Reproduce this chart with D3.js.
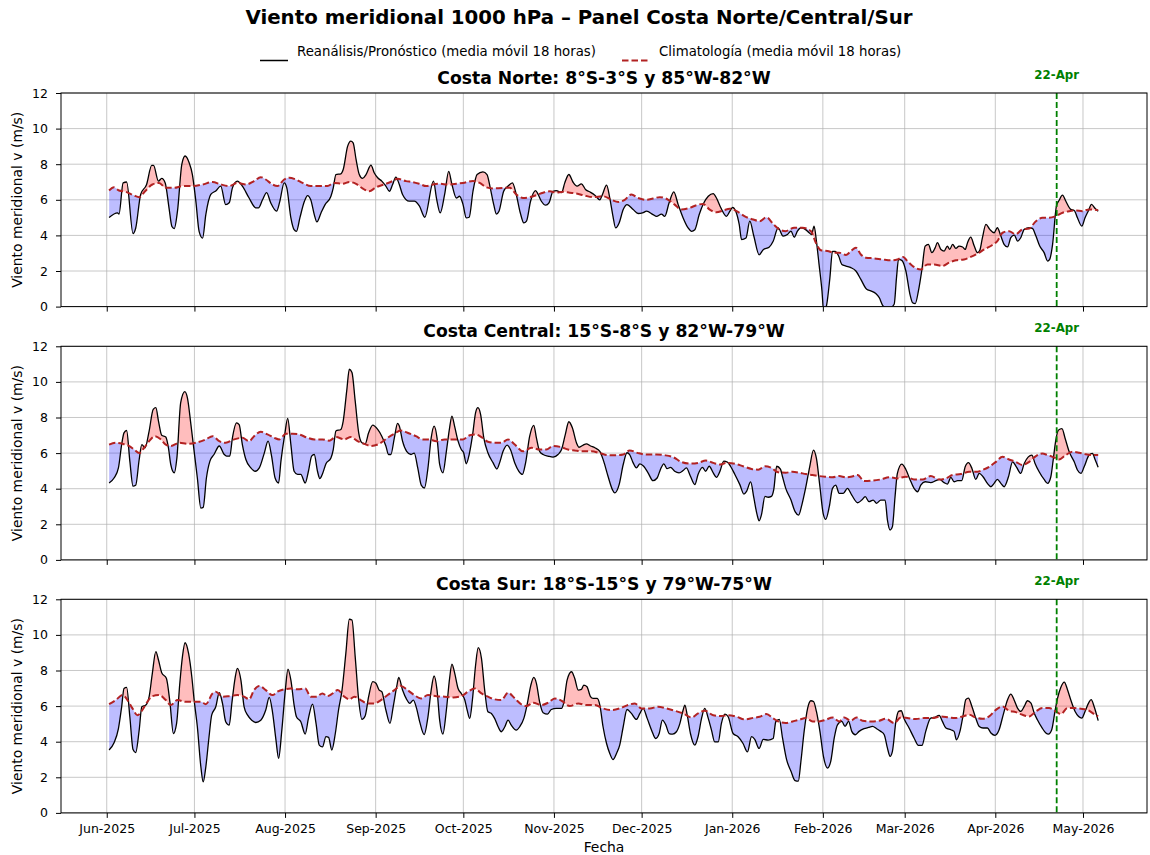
<!DOCTYPE html>
<html><head><meta charset="utf-8">
<script src="https://cdn.jsdelivr.net/npm/d3@7"></script>
<style>
body{margin:0;background:#fff}
svg{display:block}
text{font-family:"DejaVu Sans",sans-serif}
</style>
</head><body>
<svg id="chart" width="1150" height="855"></svg>
<script>
// ---------- DATA ----------
// Time axis: day offsets from 2025-06-01 (UTC)
const baseDate = "2025-06-01";
const domainDays = [-15.65, 355.9];
const monthTicks = ["2025-06-01","2025-07-01","2025-08-01","2025-09-01","2025-10-01","2025-11-01","2025-12-01","2026-01-01","2026-02-01","2026-03-01","2026-04-01","2026-05-01"];
const forecastDate = "2026-04-22";
const forecastLabel = "22-Apr";
const yTicks = [0,2,4,6,8,10,12];
const mainTitle = "Viento meridional 1000 hPa \u2013 Panel Costa Norte/Central/Sur";
const panelTitles = ["Costa Norte: 8°S-3°S y 85°W-82°W","Costa Central: 15°S-8°S y 82°W-79°W","Costa Sur: 18°S-15°S y 79°W-75°W"];
const legendLabels = ["Reanálisis/Pronóstico (media móvil 18 horas)","Climatología (media móvil 18 horas)"];

// [day, value m/s]
const northObs = [[0.8,5.0],[3.7,5.26],[4.2,5.2],[5.6,6.95],[6.8,7.0],[9.0,4.1],[9.9,4.4],[11.6,6.3],[13.6,6.85],[15.4,7.93],[16.0,7.93],[17.7,7.05],[18.8,7.2],[20.0,6.95],[21.3,5.55],[22.3,4.5],[23.1,4.38],[24.2,5.36],[25.7,8.0],[26.8,8.46],[28.2,8.08],[29.3,7.42],[30.5,5.9],[31.6,4.23],[32.8,3.85],[33.9,5.17],[35.6,6.3],[37.3,6.5],[39.0,6.77],[40.7,5.73],[41.9,5.83],[43.0,6.67],[44.7,7.05],[46.4,6.77],[48.7,6.1],[51.0,5.55],[51.9,5.55],[53.3,6.0],[54.7,6.4],[56.1,5.83],[58.1,5.36],[59.2,5.9],[60.7,6.95],[61.6,6.67],[63.0,4.98],[64.1,4.32],[64.9,4.23],[66.1,5.0],[67.6,5.9],[68.7,6.24],[69.8,6.0],[71.0,5.17],[71.9,4.76],[73.3,5.26],[74.7,5.73],[76.7,6.2],[77.5,6.67],[78.4,7.42],[80.1,7.46],[80.9,7.7],[82.4,9.0],[83.5,9.3],[84.3,9.2],[85.3,8.27],[86.4,7.42],[87.5,7.2],[88.7,7.42],[90.4,7.95],[91.5,7.52],[92.7,7.24],[94.1,7.05],[95.5,6.77],[96.7,6.48],[97.8,6.86],[98.9,7.27],[100.1,6.86],[101.2,6.3],[103.5,5.92],[105.2,5.92],[107.0,5.64],[108.8,5.02],[111.8,7.05],[112.8,6.1],[114.1,5.26],[115.6,6.3],[117.0,7.6],[118.1,6.86],[119.6,6.1],[120.7,6.2],[121.9,5.73],[123.0,4.98],[124.0,5.02],[125.3,6.48],[126.7,7.42],[128.7,7.57],[130.1,7.42],[131.2,6.67],[132.4,5.73],[133.3,5.2],[134.2,5.36],[135.8,6.48],[137.3,6.77],[138.8,6.95],[140.1,6.3],[141.5,5.26],[142.7,4.7],[143.6,4.8],[145.0,5.92],[146.7,6.52],[147.6,6.3],[148.7,5.92],[150.2,5.7],[151.3,5.83],[152.7,6.48],[153.8,6.52],[155.6,6.4],[156.7,6.95],[158.1,7.42],[159.5,7.0],[160.9,6.77],[162.4,6.9],[163.8,6.58],[165.2,6.45],[167.0,6.26],[168.7,6.0],[169.6,6.3],[171.0,6.82],[172.1,6.1],[173.2,5.07],[174.1,4.42],[175.3,4.7],[176.7,5.45],[178.0,5.73],[180.1,5.45],[181.8,5.23],[183.3,5.26],[184.7,5.36],[186.9,5.17],[188.1,5.07],[189.8,5.2],[190.9,5.07],[192.4,5.83],[194.0,6.45],[195.5,5.73],[197.2,4.98],[198.9,4.42],[200.1,4.23],[201.2,4.32],[202.7,5.17],[204.3,5.83],[205.8,6.2],[207.5,6.35],[208.6,6.1],[210.1,5.55],[212.0,5.07],[213.2,5.36],[214.1,5.58],[215.2,5.36],[216.4,4.6],[217.2,3.76],[218.7,3.85],[220.0,4.8],[221.4,3.95],[223.2,2.91],[224.6,3.2],[226.6,3.33],[228.0,3.67],[229.7,4.42],[231.4,3.96],[232.9,4.05],[234.1,4.24],[235.2,3.9],[236.3,4.24],[237.5,4.43],[239.0,4.34],[240.3,4.15],[241.1,4.05],[242.0,4.52],[242.8,3.68],[243.7,2.37],[244.7,0.88],[245.3,-0.3],[246.3,0.1],[247.4,1.6],[248.3,3.1],[249.2,3.1],[250.4,2.84],[251.5,2.37],[252.9,2.28],[254.6,2.19],[256.3,2.0],[258.0,1.53],[260.0,0.97],[261.4,0.88],[263.1,0.73],[264.3,0.5],[265.6,0.04],[267.7,-0.1],[269.4,0.13],[270.2,1.63],[270.9,2.65],[272.0,2.6],[273.4,2.0],[274.8,0.69],[275.7,0.22],[276.6,0.17],[277.7,0.88],[278.9,2.09],[280.0,3.4],[281.1,3.5],[282.3,3.03],[283.4,3.3],[284.2,3.59],[285.4,3.21],[286.5,3.12],[287.6,3.4],[288.4,3.21],[289.4,3.5],[290.5,3.27],[291.6,3.4],[292.8,3.35],[293.7,3.21],[294.5,3.59],[295.6,3.9],[296.8,3.4],[297.9,3.03],[298.7,3.16],[299.6,3.87],[300.8,4.62],[302.1,4.34],[303.6,4.15],[304.7,4.43],[305.9,3.96],[307.0,3.5],[308.2,3.35],[309.3,3.87],[310.5,4.02],[311.6,3.68],[312.7,3.87],[313.9,4.34],[315.6,4.43],[316.7,4.39],[317.9,3.96],[319.2,3.4],[320.7,3.03],[321.9,2.56],[322.6,2.65],[323.6,3.5],[324.9,5.64],[325.8,5.96],[327.0,6.26],[328.1,5.93],[329.8,5.46],[331.0,5.4],[332.1,4.99],[333.6,4.52],[334.7,4.99],[335.9,5.4],[336.9,5.74],[338.2,5.51],[339.2,5.36]];
const northClim = [[0.8,6.52],[2.5,6.7],[4.2,6.52],[6.5,6.45],[9.4,6.24],[11.1,6.15],[13.1,6.48],[15.6,6.86],[17.9,6.95],[20.2,6.67],[23.1,6.67],[25.9,6.77],[29.3,6.77],[32.8,6.86],[36.2,7.0],[39.0,6.86],[41.9,6.77],[44.7,6.95],[47.6,6.86],[50.4,7.05],[52.7,7.27],[54.4,7.14],[56.7,6.86],[58.4,6.77],[60.7,7.14],[62.4,7.24],[64.7,7.14],[67.0,6.95],[69.8,6.77],[72.7,6.77],[75.5,6.77],[77.8,6.95],[80.7,6.9],[83.0,7.0],[85.3,6.9],[87.5,6.64],[89.8,6.48],[92.1,6.7],[94.9,6.86],[97.8,7.05],[99.5,7.18],[102.4,7.05],[104.6,7.0],[106.9,6.9],[109.3,6.77],[111.6,6.86],[113.9,6.9],[116.8,6.86],[119.6,6.9],[121.9,6.95],[125.3,7.05],[127.6,6.95],[129.9,6.7],[132.2,6.64],[135.6,6.67],[137.9,6.67],[140.1,6.3],[142.4,6.1],[145.9,6.2],[149.3,6.4],[151.6,6.48],[153.8,6.4],[156.1,6.45],[158.4,6.4],[160.7,6.35],[163.5,6.24],[166.4,6.15],[169.8,6.2],[172.7,6.0],[175.0,5.88],[177.2,6.0],[179.5,6.3],[181.8,6.1],[184.7,6.0],[186.9,6.07],[189.2,6.15],[192.1,6.0],[194.3,5.73],[196.6,5.45],[199.5,5.55],[201.8,5.7],[204.0,5.77],[206.3,5.45],[208.6,5.3],[210.9,5.4],[213.2,5.5],[215.5,5.36],[218.3,5.07],[221.2,4.89],[223.4,4.8],[225.7,5.02],[228.0,4.64],[230.2,4.33],[232.3,4.24],[235.2,4.43],[238.0,4.43],[240.9,4.24],[242.6,3.59],[244.3,3.16],[246.6,3.12],[248.9,3.03],[250.6,3.03],[252.9,2.9],[254.6,3.12],[256.3,3.31],[258.0,2.93],[259.7,2.75],[262.6,2.71],[265.4,2.65],[268.3,2.6],[270.5,2.65],[272.5,2.79],[273.9,2.56],[275.7,2.28],[278.5,2.09],[280.8,2.37],[283.1,2.37],[285.9,2.28],[288.2,2.47],[290.5,2.6],[293.3,2.65],[295.6,2.79],[297.9,2.97],[300.2,3.21],[303.0,3.46],[304.7,3.68],[306.5,4.15],[308.7,4.24],[311.0,4.06],[313.3,4.34],[315.6,4.39],[317.9,4.8],[320.1,4.99],[322.4,4.99],[324.7,5.08],[327.0,5.27],[329.3,5.36],[331.5,5.4],[333.8,5.36],[336.1,5.46],[339.2,5.42]];

const centralObs = [[0.8,4.32],[2.5,4.6],[4.0,5.17],[5.1,6.48],[5.9,7.14],[6.8,7.27],[7.9,5.55],[9.0,4.14],[9.9,4.19],[11.1,5.64],[12.0,6.48],[13.1,6.3],[14.5,7.24],[15.9,8.46],[16.8,8.55],[17.7,7.8],[18.8,7.0],[20.2,6.9],[21.1,6.3],[21.9,5.36],[23.1,4.89],[24.0,5.73],[25.3,8.83],[26.7,9.45],[27.6,9.1],[28.8,7.6],[29.9,6.1],[31.0,4.6],[32.2,2.91],[33.0,2.95],[34.1,4.6],[35.3,5.55],[36.7,5.92],[38.5,6.4],[40.2,5.92],[41.0,5.83],[42.1,5.83],[43.0,6.86],[44.4,7.7],[45.3,7.6],[46.4,6.48],[47.6,5.64],[49.3,5.17],[50.8,4.98],[52.2,5.17],[53.9,6.0],[55.2,6.67],[56.4,5.83],[57.6,4.6],[58.8,4.32],[59.6,5.55],[60.9,7.05],[61.9,7.95],[63.0,6.48],[64.1,4.98],[65.3,4.8],[66.4,4.8],[67.9,4.32],[69.0,4.98],[70.1,5.83],[71.0,5.92],[72.1,4.98],[72.9,4.57],[73.8,4.83],[75.0,5.4],[76.7,5.73],[77.5,6.2],[78.4,7.24],[80.1,7.33],[80.9,7.8],[82.1,9.5],[83.0,10.71],[83.9,10.53],[85.0,8.93],[86.2,7.14],[87.3,6.58],[88.4,6.52],[89.6,7.14],[91.0,7.57],[92.7,7.33],[94.1,6.95],[95.5,6.4],[96.4,5.92],[97.2,5.92],[98.4,6.86],[99.5,7.67],[100.1,7.52],[101.2,6.67],[102.6,6.1],[104.1,5.92],[105.2,6.0],[106.4,5.17],[107.6,4.2],[108.7,4.04],[109.9,5.17],[111.0,6.86],[112.0,7.52],[113.0,6.86],[113.9,5.36],[115.0,4.89],[116.2,6.1],[117.3,7.42],[118.1,8.08],[119.0,7.52],[120.2,6.67],[121.3,6.2],[122.1,6.02],[123.0,5.4],[124.0,5.92],[125.1,6.95],[126.2,8.27],[127.0,8.55],[127.9,8.18],[129.0,6.86],[130.4,6.02],[132.2,5.45],[133.5,5.11],[134.4,5.45],[135.6,6.1],[137.0,6.45],[138.1,6.2],[139.6,5.45],[141.0,4.98],[142.2,4.8],[143.3,5.45],[144.7,6.95],[146.1,7.56],[147.0,6.86],[148.1,6.1],[149.3,5.92],[151.0,5.83],[152.7,5.77],[154.4,5.92],[155.6,6.2],[156.9,7.05],[158.1,7.76],[159.3,7.42],[160.7,6.58],[161.6,6.33],[163.0,6.45],[164.1,6.52],[165.5,6.4],[167.0,6.3],[168.7,6.1],[170.0,5.55],[171.5,4.7],[173.0,3.95],[173.8,3.76],[175.3,4.23],[176.7,5.36],[178.0,6.02],[178.9,5.92],[180.1,5.45],[181.2,5.17],[182.4,5.4],[183.7,5.26],[185.2,4.89],[186.9,4.45],[188.3,4.6],[189.4,5.07],[190.6,5.4],[191.7,5.13],[192.9,5.2],[194.3,4.98],[195.8,4.89],[197.2,5.02],[198.3,5.17],[199.7,4.7],[201.2,4.23],[202.3,4.8],[203.8,5.2],[204.9,4.98],[206.1,5.26],[207.5,4.89],[208.6,4.64],[209.8,4.98],[211.1,5.55],[212.3,5.5],[213.4,5.26],[214.9,4.8],[216.6,4.23],[218.0,3.7],[218.9,3.85],[220.3,4.38],[221.4,3.48],[222.5,2.54],[223.2,2.2],[224.0,2.54],[225.2,3.57],[226.3,3.52],[227.4,3.57],[228.2,3.95],[229.2,5.26],[230.5,5.1],[231.2,4.67],[232.3,4.02],[234.1,3.36],[235.5,2.71],[236.7,2.52],[237.8,3.08],[239.2,4.11],[240.5,5.23],[241.8,6.17],[242.8,5.7],[244.0,4.11],[245.1,2.62],[246.0,2.28],[247.2,2.99],[248.3,4.02],[249.4,4.2],[250.6,3.74],[252.0,3.74],[253.4,4.02],[254.9,3.64],[256.9,3.21],[258.3,3.36],[259.5,3.55],[260.8,3.27],[262.2,3.36],[263.4,3.18],[264.8,3.36],[266.3,3.36],[267.1,2.24],[268.0,1.68],[268.8,1.87],[269.7,3.55],[270.5,4.86],[272.0,5.38],[273.4,5.08],[274.8,4.52],[276.2,4.02],[277.4,3.83],[278.5,4.2],[280.0,4.39],[281.9,4.34],[283.7,4.45],[285.0,4.52],[286.5,4.34],[287.6,4.26],[288.8,4.64],[289.9,4.39],[291.1,4.45],[292.5,4.45],[293.7,5.23],[294.8,5.46],[296.0,5.14],[297.3,4.52],[298.5,4.86],[299.8,4.67],[301.3,4.3],[302.5,4.11],[303.6,4.3],[304.7,4.52],[305.9,4.3],[307.0,4.11],[308.5,4.67],[309.9,5.51],[311.2,5.23],[312.7,4.86],[313.9,5.42],[315.3,5.79],[316.5,5.89],[317.6,5.42],[319.0,4.95],[320.7,4.52],[321.9,4.3],[323.0,4.67],[323.8,5.61],[324.7,6.73],[325.6,7.29],[326.8,7.38],[327.9,6.82],[329.3,6.07],[331.0,5.51],[332.1,5.05],[333.3,4.86],[334.4,5.23],[336.1,5.89],[337.2,5.98],[338.2,5.61],[339.2,5.2]];
const centralClim = [[0.8,6.48],[3.1,6.58],[5.4,6.52],[7.6,6.4],[9.4,6.2],[11.1,6.0],[12.8,6.3],[14.5,6.67],[16.5,6.95],[18.5,6.77],[20.2,6.48],[21.9,6.4],[24.8,6.58],[27.6,6.52],[30.5,6.58],[33.9,6.77],[36.2,6.95],[38.5,6.67],[40.7,6.58],[43.6,6.77],[46.4,6.86],[48.7,6.67],[50.4,6.95],[52.7,7.2],[55.0,7.05],[57.3,6.86],[59.0,6.77],[61.3,7.09],[63.6,7.09],[65.8,7.05],[68.7,6.86],[71.0,6.77],[73.8,6.77],[76.1,6.7],[78.4,6.9],[81.3,6.77],[83.5,6.9],[85.8,6.67],[88.1,6.52],[90.4,6.4],[93.2,6.52],[96.1,6.86],[98.4,7.09],[100.6,7.27],[102.9,7.14],[105.8,6.95],[108.1,6.77],[110.0,6.77],[112.8,6.67],[115.6,6.77],[118.5,6.77],[121.9,6.77],[124.2,7.0],[126.2,7.05],[128.2,6.9],[130.4,6.64],[132.7,6.58],[135.0,6.58],[137.3,6.77],[139.6,6.48],[142.4,6.1],[145.3,6.3],[148.1,6.2],[150.4,6.2],[152.7,6.4],[155.6,6.33],[157.8,6.2],[160.1,6.15],[163.0,6.1],[165.8,6.1],[168.7,6.0],[171.5,5.88],[174.4,5.88],[176.7,5.92],[178.9,6.15],[181.8,6.0],[184.6,5.92],[188.1,5.92],[190.9,5.88],[193.8,5.77],[196.6,5.5],[199.5,5.41],[202.3,5.45],[205.0,5.58],[207.5,5.45],[209.8,5.36],[212.0,5.45],[214.9,5.4],[217.7,5.26],[220.6,5.11],[222.9,5.07],[225.2,5.26],[227.4,5.17],[229.7,4.92],[232.3,4.9],[234.6,4.95],[236.9,4.9],[239.2,4.82],[241.5,4.77],[243.7,4.71],[246.0,4.67],[248.3,4.64],[250.6,4.71],[252.9,4.64],[254.6,4.67],[256.9,4.77],[259.1,4.43],[262.0,4.45],[264.8,4.52],[267.7,4.64],[270.5,4.58],[273.4,4.67],[276.2,4.52],[279.1,4.52],[281.9,4.71],[284.8,4.52],[287.1,4.58],[289.4,4.77],[292.2,4.82],[295.1,4.95],[297.9,4.95],[299.6,5.05],[301.9,5.23],[304.2,5.51],[306.5,5.79],[308.7,5.64],[311.0,5.51],[313.3,5.33],[315.6,5.51],[317.9,5.83],[320.1,5.98],[321.9,5.89],[323.6,5.79],[325.8,5.64],[328.1,5.89],[330.4,6.07],[332.7,6.02],[335.0,5.94],[337.2,5.89],[339.2,5.89]];

const surObs = [[0.8,3.53],[2.5,3.94],[4.0,4.74],[5.1,5.96],[5.9,6.99],[6.8,7.05],[7.9,5.4],[9.0,3.56],[9.9,3.39],[11.1,4.65],[12.0,5.96],[13.4,6.06],[14.5,6.53],[15.6,7.84],[16.8,9.06],[17.7,8.59],[18.8,7.88],[20.4,7.56],[21.6,6.24],[22.8,4.46],[23.9,5.03],[25.0,7.28],[25.9,8.78],[26.8,9.56],[28.0,8.96],[29.1,7.65],[29.9,6.34],[31.0,4.84],[32.2,2.59],[33.0,1.74],[33.9,2.59],[35.0,4.28],[35.9,5.49],[37.3,5.96],[38.5,6.75],[39.6,6.15],[40.7,5.12],[41.9,4.93],[42.8,6.15],[43.9,7.56],[44.7,8.12],[45.9,7.46],[47.0,5.96],[48.2,5.49],[49.6,5.21],[51.0,5.08],[52.7,5.21],[54.4,5.78],[55.6,6.49],[56.7,5.68],[57.9,4.09],[58.8,3.06],[59.9,4.65],[61.1,6.9],[62.0,8.08],[63.0,7.46],[64.1,6.06],[64.9,5.4],[66.4,5.12],[67.9,4.43],[69.0,5.31],[70.4,6.11],[71.6,5.03],[72.7,3.81],[73.8,3.71],[75.0,4.28],[75.9,4.24],[77.0,3.53],[78.2,4.46],[79.3,5.78],[80.5,6.9],[81.8,8.96],[83.0,10.88],[83.9,10.84],[85.0,8.78],[86.2,6.34],[87.3,5.25],[88.4,5.44],[89.6,6.53],[91.0,7.37],[92.1,7.28],[93.2,6.9],[94.1,6.81],[95.5,5.78],[96.9,5.03],[98.0,5.96],[99.2,7.09],[99.9,7.61],[101.2,6.9],[102.6,6.38],[103.7,6.15],[104.9,6.34],[106.0,5.87],[107.1,5.1],[108.6,4.4],[109.9,5.4],[111.0,6.9],[112.0,7.69],[113.0,6.9],[113.9,5.21],[115.0,4.43],[116.2,5.78],[117.3,7.56],[118.1,8.36],[119.0,7.88],[120.2,6.99],[121.3,6.71],[122.5,6.34],[123.3,5.78],[124.2,5.31],[125.1,6.34],[126.2,8.31],[127.1,9.28],[128.2,8.68],[129.3,6.9],[130.4,5.68],[131.6,5.59],[132.7,5.31],[133.9,4.84],[135.0,4.56],[136.2,4.84],[137.3,5.21],[138.4,4.93],[140.1,4.65],[141.3,4.84],[142.7,5.31],[143.8,6.06],[145.1,7.18],[146.1,7.61],[147.0,7.28],[148.1,6.24],[149.3,5.63],[150.8,5.55],[152.1,5.81],[153.8,5.87],[155.6,5.87],[156.3,6.15],[157.5,7.46],[159.0,7.93],[160.1,7.56],[161.3,6.9],[162.4,6.94],[163.2,7.18],[164.3,7.09],[165.5,6.53],[166.4,6.43],[167.8,6.43],[168.7,6.06],[169.8,4.84],[171.0,3.9],[172.1,3.34],[173.2,3.0],[174.4,3.34],[175.5,3.81],[176.7,4.84],[178.0,5.81],[179.5,5.59],[181.2,5.25],[182.4,5.59],[183.5,5.87],[184.9,5.31],[186.4,4.65],[187.8,4.18],[189.0,4.46],[190.1,5.21],[191.3,4.93],[192.4,4.46],[193.6,4.43],[194.9,4.56],[196.1,5.03],[197.2,5.78],[197.8,6.06],[198.6,5.49],[199.7,4.46],[201.2,3.81],[202.3,4.28],[203.5,5.31],[204.6,5.87],[205.8,5.31],[206.9,4.65],[208.0,3.99],[209.2,3.99],[210.3,5.03],[211.5,5.55],[212.6,5.4],[214.3,4.46],[216.0,4.28],[217.7,3.9],[219.2,3.43],[220.6,4.28],[221.7,4.13],[223.2,3.62],[224.6,4.13],[226.3,4.09],[228.0,4.18],[228.9,5.12],[230.1,5.25],[231.2,4.21],[232.6,2.99],[234.1,2.34],[235.5,1.81],[236.6,1.78],[237.5,2.9],[238.6,4.58],[239.8,5.89],[240.9,6.3],[241.8,6.26],[242.8,5.7],[244.0,4.58],[245.2,3.18],[246.6,2.52],[247.7,2.9],[248.9,4.21],[250.0,4.95],[251.5,5.14],[252.6,4.86],[253.8,5.14],[254.9,4.58],[256.1,4.39],[257.4,4.58],[259.1,4.73],[260.6,4.8],[262.0,4.86],[263.4,4.73],[264.8,4.58],[266.0,4.39],[267.1,3.64],[268.0,3.18],[268.8,3.46],[270.0,5.14],[270.9,5.7],[271.8,5.74],[272.8,5.29],[274.5,4.77],[276.2,4.21],[277.7,3.79],[278.9,3.79],[280.2,4.58],[281.9,5.33],[283.1,5.36],[284.8,5.48],[285.9,5.14],[287.1,4.77],[288.8,4.67],[289.9,4.58],[290.7,4.11],[291.9,4.58],[293.0,5.51],[293.9,6.36],[294.8,6.45],[296.0,5.98],[297.3,5.33],[298.5,4.86],[299.8,4.77],[301.3,4.77],[302.5,4.49],[303.9,4.36],[305.3,4.67],[306.7,5.51],[308.2,6.36],[309.3,6.67],[310.4,6.36],[311.6,5.89],[312.7,5.7],[313.9,5.98],[315.0,6.3],[316.2,6.17],[317.3,5.61],[318.4,5.23],[319.9,4.8],[321.3,4.49],[322.2,4.43],[323.3,4.67],[324.5,5.79],[325.3,6.45],[326.4,7.05],[327.6,7.35],[328.7,6.92],[329.8,6.36],[331.3,5.7],[332.5,5.42],[333.6,5.33],[334.7,5.7],[335.9,6.17],[336.8,6.36],[337.8,5.98],[339.2,5.18]];
const surClim = [[0.8,6.11],[3.1,6.34],[5.4,6.62],[7.1,6.34],[8.8,5.87],[10.5,5.49],[12.2,5.78],[13.9,6.24],[15.6,6.56],[17.9,6.62],[20.2,6.34],[21.9,6.06],[24.2,6.34],[27.0,6.24],[29.9,6.24],[32.2,6.24],[33.9,6.11],[36.2,6.71],[37.3,6.81],[39.6,6.53],[41.9,6.56],[44.7,6.62],[47.0,6.53],[48.7,6.38],[50.4,6.9],[52.2,7.13],[54.4,6.9],[56.7,6.62],[58.4,6.81],[60.7,6.94],[63.0,6.99],[65.3,6.94],[67.9,6.99],[69.8,6.53],[71.6,6.53],[73.8,6.71],[75.5,6.56],[77.3,6.71],[79.0,6.9],[81.3,6.53],[83.0,6.38],[84.7,6.53],[86.9,6.34],[89.2,6.15],[91.5,6.15],[93.8,6.34],[96.1,6.62],[98.4,6.9],[100.6,7.13],[102.9,6.9],[105.2,6.62],[107.5,6.43],[109.9,6.62],[112.8,6.56],[115.6,6.53],[118.5,6.49],[121.3,6.56],[123.6,6.81],[125.9,6.99],[128.2,6.71],[130.4,6.53],[132.7,6.38],[135.0,6.34],[137.3,6.75],[139.6,6.43],[141.9,6.09],[143.6,6.0],[145.9,6.19],[148.7,6.06],[151.0,6.19],[153.3,6.43],[155.6,6.3],[158.4,6.0],[161.3,6.15],[164.1,6.06],[167.0,6.06],[169.8,5.87],[172.7,5.78],[175.5,5.87],[178.4,6.06],[180.7,6.15],[182.9,5.87],[185.8,5.87],[188.6,5.96],[191.5,5.87],[194.3,5.74],[197.2,5.59],[200.1,5.36],[202.3,5.59],[204.6,5.74],[207.5,5.49],[210.3,5.44],[212.6,5.49],[215.5,5.4],[218.3,5.25],[221.2,5.34],[223.4,5.4],[225.7,5.55],[228.0,5.31],[230.3,5.1],[232.3,5.05],[234.6,5.14],[236.9,5.23],[239.2,5.33],[241.5,5.14],[243.7,5.14],[246.0,5.23],[248.3,5.36],[250.6,5.14],[252.3,5.36],[254.6,5.18],[256.5,5.36],[258.6,5.18],[261.4,5.14],[264.3,5.18],[266.5,5.29],[269.4,5.05],[271.7,5.36],[273.9,5.33],[276.8,5.27],[279.7,5.33],[282.5,5.33],[285.4,5.42],[288.2,5.36],[290.5,5.33],[292.8,5.42],[295.1,5.51],[297.3,5.36],[299.6,5.29],[301.9,5.42],[304.2,5.79],[306.5,5.98],[308.7,5.74],[311.0,5.66],[313.3,5.51],[315.6,5.42],[317.9,5.7],[320.1,5.89],[322.4,5.89],[324.7,5.7],[326.4,5.55],[328.7,5.89],[331.0,5.89],[333.3,5.85],[335.5,5.79],[337.8,5.55],[339.2,5.42]];

const panels = [
  {title: panelTitles[0], obs: northObs, clim: northClim},
  {title: panelTitles[1], obs: centralObs, clim: centralClim},
  {title: panelTitles[2], obs: surObs, clim: surClim}
];

// ---------- DRAW ----------
const svg = d3.select("#chart");
const FONT = '"DejaVu Sans", sans-serif';
const L = 61, R = 1147, PH = 213.6;
const tops = [93, 346.3, 599.3];
const base = new Date(baseDate + "T00:00:00Z");
const toDate = d => new Date(base.getTime() + d * 864e5);
const x = d3.scaleUtc().domain(domainDays.map(toDate)).range([L, R]);
const y = d3.scaleLinear().domain([0, 12]).range([PH, 0]);
const tickDates = monthTicks.map(s => new Date(s + "T00:00:00Z"));
const fDate = new Date(forecastDate + "T00:00:00Z");
const fmt = d3.utcFormat("%b-%Y");
const defs = svg.append("defs");
const CLIM_COLOR = "#b22222";

svg.append("text").attr("x", 579).attr("y", 24).attr("text-anchor", "middle")
  .attr("font-size", 19.8).attr("font-weight", "bold").attr("fill", "#000").text(mainTitle);

// legend
const lg = svg.append("g");
lg.append("line").attr("x1", 260).attr("x2", 288).attr("y1", 60.5).attr("y2", 60.5)
  .attr("stroke", "#000").attr("stroke-width", 1.5);
lg.append("text").attr("x", 297).attr("y", 55.5).attr("font-size", 13.3).text(legendLabels[0]);
lg.append("line").attr("x1", 622).attr("x2", 650).attr("y1", 60.5).attr("y2", 60.5)
  .attr("stroke", CLIM_COLOR).attr("stroke-width", 2).attr("stroke-dasharray", "6.5,3");
lg.append("text").attr("x", 659).attr("y", 55.5).attr("font-size", 13.3).text(legendLabels[1]);

const curve = d3.curveMonotoneX;

panels.forEach((p, i) => {
  const g = svg.append("g").attr("transform", `translate(0,${tops[i]})`);
  const px = d => x(toDate(d[0]));
  const py = d => y(d[1]);

  // grid
  g.append("g").selectAll("line").data(tickDates).join("line")
    .attr("x1", d => x(d)).attr("x2", d => x(d)).attr("y1", 0).attr("y2", PH)
    .attr("stroke", "#b0b0b0").attr("stroke-opacity", 0.7).attr("stroke-width", 1);
  g.append("g").selectAll("line").data(yTicks).join("line")
    .attr("x1", L).attr("x2", R).attr("y1", d => y(d)).attr("y2", d => y(d))
    .attr("stroke", "#b0b0b0").attr("stroke-opacity", 0.7).attr("stroke-width", 1);

  // clip paths
  defs.append("clipPath").attr("id", "plot" + i).append("rect")
    .attr("x", L).attr("y", 0).attr("width", R - L).attr("height", PH);
  defs.append("clipPath").attr("id", "above" + i).append("path")
    .attr("d", d3.area().curve(curve).x(px).y0(-100).y1(py)(p.obs));
  defs.append("clipPath").attr("id", "below" + i).append("path")
    .attr("d", d3.area().curve(curve).x(px).y0(PH + 100).y1(py)(p.obs));

  const plot = g.append("g").attr("clip-path", `url(#plot${i})`);
  // obs below clim -> blue
  plot.append("path").attr("clip-path", `url(#above${i})`)
    .attr("d", d3.area().curve(curve).x(px).y0(PH + 100).y1(py)(p.clim))
    .attr("fill", "#0000ff").attr("fill-opacity", 0.26);
  // obs above clim -> red
  plot.append("path").attr("clip-path", `url(#below${i})`)
    .attr("d", d3.area().curve(curve).x(px).y0(-100).y1(py)(p.clim))
    .attr("fill", "#ff0000").attr("fill-opacity", 0.26);
  // obs line
  plot.append("path").attr("d", d3.line().curve(curve).x(px).y(py)(p.obs))
    .attr("fill", "none").attr("stroke", "#000").attr("stroke-width", 1.3).attr("stroke-linejoin", "round");
  // clim line
  plot.append("path").attr("d", d3.line().curve(curve).x(px).y(py)(p.clim))
    .attr("fill", "none").attr("stroke", CLIM_COLOR).attr("stroke-width", 2).attr("stroke-dasharray", "6.5,3");

  // forecast line
  g.append("line").attr("x1", x(fDate)).attr("x2", x(fDate)).attr("y1", 0).attr("y2", PH)
    .attr("stroke", "green").attr("stroke-width", 1.8).attr("stroke-dasharray", "6,3");
  g.append("text").attr("x", x(fDate)).attr("y", -14).attr("text-anchor", "middle")
    .attr("font-size", 11.8).attr("font-weight", "bold").attr("fill", "green").text(forecastLabel);

  // axes
  const ya = g.append("g").attr("transform", `translate(${L},0)`)
    .call(d3.axisLeft(y).tickValues(yTicks).tickSize(5).tickPadding(8).tickSizeOuter(0));
  const xa = g.append("g").attr("transform", `translate(0,${PH})`)
    .call(d3.axisBottom(x).tickValues(tickDates).tickSize(5).tickPadding(6).tickSizeOuter(0)
      .tickFormat(i === 2 ? fmt : () => ""));
  [ya, xa].forEach(a => {
    a.select(".domain").remove();
    a.selectAll("text").attr("font-family", FONT).attr("font-size", 12.5).attr("fill", "#000");
    a.selectAll("line").attr("stroke", "#000").attr("stroke-width", 1);
  });

  // spines
  g.append("rect").attr("x", L).attr("y", 0).attr("width", R - L).attr("height", PH)
    .attr("fill", "none").attr("stroke", "#000").attr("stroke-width", 1);

  // titles
  g.append("text").attr("x", (L + R) / 2).attr("y", -9).attr("text-anchor", "middle")
    .attr("font-size", 17.2).attr("font-weight", "bold").text(p.title);
  g.append("text").attr("transform", `translate(22,${PH / 2}) rotate(-90)`)
    .attr("text-anchor", "middle").attr("font-size", 13.9).text("Viento meridional v (m/s)");
});

svg.append("text").attr("x", (L + R) / 2).attr("y", 852).attr("text-anchor", "middle")
  .attr("font-size", 13.9).text("Fecha");
</script>
</body></html>
